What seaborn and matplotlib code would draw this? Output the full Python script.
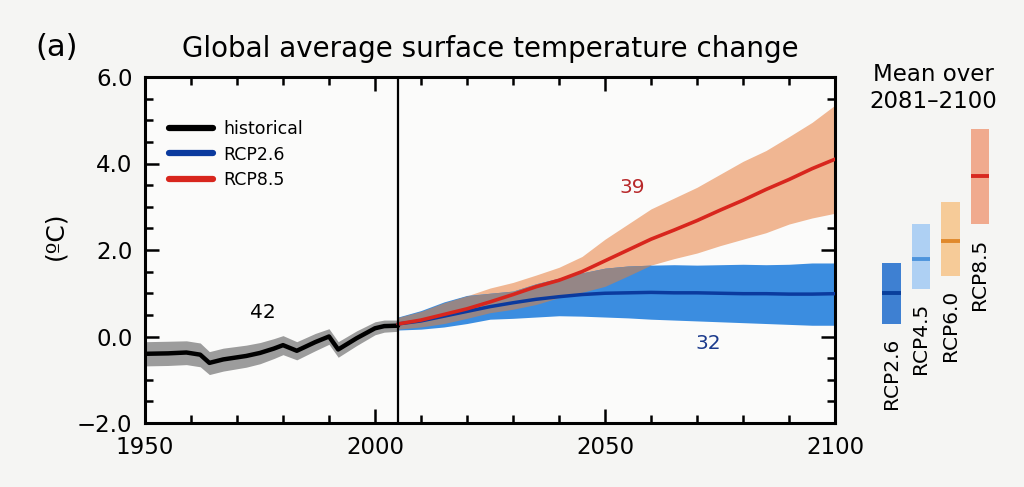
import numpy as np
import pandas as pd
import matplotlib
matplotlib.use("Agg")
import matplotlib.pyplot as plt
import seaborn as sns
from matplotlib.ticker import MultipleLocator, FixedLocator

# ---------------- data ----------------
hist_years = [1950, 1955, 1959, 1962, 1964, 1967, 1972, 1975, 1978, 1980, 1983,
              1987, 1990, 1992, 1996, 2000, 2002, 2005]
hist_mean = [-0.40, -0.39, -0.37, -0.42, -0.61, -0.53, -0.45, -0.38, -0.28, -0.20,
             -0.33, -0.13, 0.00, -0.30, -0.04, 0.19, 0.24, 0.25]
hist_lo = [-0.68, -0.67, -0.65, -0.70, -0.88, -0.80, -0.71, -0.63, -0.51, -0.42,
           -0.54, -0.33, -0.18, -0.48, -0.21, 0.04, 0.10, 0.12]
hist_hi = [-0.12, -0.11, -0.10, -0.15, -0.35, -0.27, -0.20, -0.14, -0.05, 0.02,
           -0.12, 0.07, 0.18, -0.12, 0.13, 0.34, 0.38, 0.38]

proj_years = [2005, 2010, 2015, 2020, 2025, 2030, 2035, 2040, 2045, 2050,
              2055, 2060, 2065, 2070, 2075, 2080, 2085, 2090, 2095, 2100]
rcp26_mean = [0.29, 0.36, 0.47, 0.58, 0.69, 0.78, 0.86, 0.92, 0.97, 1.00,
              1.01, 1.02, 1.01, 1.01, 1.00, 0.99, 0.99, 0.98, 0.98, 0.99]
rcp26_lo = [0.15, 0.17, 0.22, 0.30, 0.40, 0.42, 0.45, 0.48, 0.47, 0.45,
            0.43, 0.40, 0.38, 0.36, 0.34, 0.32, 0.30, 0.28, 0.26, 0.26]
rcp26_hi = [0.45, 0.60, 0.80, 0.95, 1.00, 1.05, 1.22, 1.35, 1.47, 1.58,
            1.63, 1.65, 1.66, 1.65, 1.66, 1.67, 1.66, 1.67, 1.70, 1.70]
rcp85_mean = [0.29, 0.38, 0.51, 0.64, 0.80, 0.97, 1.15, 1.30, 1.50, 1.75,
              2.00, 2.25, 2.46, 2.68, 2.92, 3.15, 3.40, 3.63, 3.88, 4.10]
rcp85_lo = [0.17, 0.22, 0.30, 0.42, 0.55, 0.63, 0.74, 0.90, 1.02, 1.16,
            1.40, 1.65, 1.80, 1.93, 2.10, 2.25, 2.40, 2.60, 2.74, 2.85]
rcp85_hi = [0.44, 0.58, 0.78, 0.94, 1.12, 1.25, 1.42, 1.60, 1.85, 2.25,
            2.60, 2.95, 3.20, 3.45, 3.75, 4.05, 4.30, 4.62, 4.95, 5.35]

bar_names = ["RCP2.6", "RCP4.5", "RCP6.0", "RCP8.5"]
bar_lo = [0.3, 1.1, 1.4, 2.6]
bar_hi = [1.7, 2.6, 3.1, 4.8]
bar_mean = [1.0, 1.8, 2.2, 3.7]

model_counts = ["42", "39", "32"]
count_pos_x = [1975.6, 2056.0, 2072.5]
count_pos_y = [0.55, 3.44, -0.16]

xtick_vals = [1950, 2000, 2050, 2100]
xtick_labels = ["1950", "2000", "2050", "2100"]
ytick_vals = [-2, 0, 2, 4, 6]
ytick_labels = ["\u22122.0", "0.0", "2.0", "4.0", "6.0"]

# ---------------- style ----------------
sns.set_style("ticks")
plt.rcParams["font.family"] = ["DejaVu Sans"]
plt.rcParams["text.color"] = "black"
plt.rcParams["axes.labelcolor"] = "black"
plt.rcParams["xtick.color"] = "black"
plt.rcParams["ytick.color"] = "black"

C_HIST_BAND = "#9c9c9c"
C_26_BAND = "#3b8de0"
C_85_BAND = "#f0b692"
C_OVERLAP = "#958686"
C_26_LINE = "#0b3a9e"
C_85_LINE = "#d8261d"

fig = plt.figure(figsize=(10.24, 4.87), dpi=100, facecolor="#f5f5f3")
ax = fig.add_axes([145 / 1024, 64 / 487, 690 / 1024, 346 / 487])
ax.set_facecolor("#fbfbfa")

yrs_p = np.array(proj_years)
lo26, hi26 = np.array(rcp26_lo), np.array(rcp26_hi)
lo85, hi85 = np.array(rcp85_lo), np.array(rcp85_hi)

# bands
ax.fill_between(hist_years, hist_lo, hist_hi, color=C_HIST_BAND, lw=0, zorder=1)
ax.fill_between(yrs_p, lo85, hi85, color=C_85_BAND, lw=0, zorder=1)
ax.fill_between(yrs_p, lo26, hi26, color=C_26_BAND, lw=0, zorder=1)
ov_lo = np.maximum(lo26, lo85)
ov_hi = np.minimum(hi26, hi85)
ax.fill_between(yrs_p, ov_lo, ov_hi, where=ov_hi > ov_lo, interpolate=True,
                color=C_OVERLAP, lw=0, zorder=1)

# lines
df_h = pd.DataFrame({"year": hist_years, "val": hist_mean})
df_26 = pd.DataFrame({"year": proj_years, "val": rcp26_mean})
df_85 = pd.DataFrame({"year": proj_years, "val": rcp85_mean})
sns.lineplot(data=df_h, x="year", y="val", ax=ax, color="black", lw=3.2,
             label="historical", zorder=3)
sns.lineplot(data=df_26, x="year", y="val", ax=ax, color=C_26_LINE, lw=2.5,
             label="RCP2.6", zorder=3)
sns.lineplot(data=df_85, x="year", y="val", ax=ax, color=C_85_LINE, lw=2.6,
             label="RCP8.5", zorder=4)

ax.axvline(2005, color="black", lw=1.6, zorder=5)

count_colors = ["black", "#b8282a", "#1b3a8c"]
for t, xx, yy, c in zip(model_counts, count_pos_x, count_pos_y, count_colors):
    ax.text(xx, yy, t, color=c, fontsize=14.5, ha="center", va="center")

ax.set_xlim(1950, 2100)
ax.set_ylim(-2, 6)
ax.xaxis.set_major_locator(FixedLocator(xtick_vals))
ax.set_xticklabels(xtick_labels)
ax.xaxis.set_minor_locator(MultipleLocator(10))
ax.yaxis.set_major_locator(FixedLocator(ytick_vals))
ax.set_yticklabels(ytick_labels)
ax.yaxis.set_minor_locator(MultipleLocator(0.5))
ax.tick_params(which="both", direction="in", top=True, right=True, width=1.8,
               colors="black", labelsize=16.5)
ax.tick_params(which="major", length=10)
ax.tick_params(which="minor", length=6)
ax.tick_params(axis="y", which="major", pad=9)
ax.tick_params(axis="x", which="major", pad=9)
for s in ax.spines.values():
    s.set_linewidth(2.2)
    s.set_color("black")
ax.set_xlabel("")
ax.set_ylabel("(\u00baC)", fontsize=18)
ax.yaxis.set_label_coords(-0.113, 0.54)

leg = ax.legend(loc="upper left", bbox_to_anchor=(0.025, 0.895), frameon=False,
                fontsize=12.5, handlelength=2.5, handletextpad=0.6,
                labelspacing=0.42, borderaxespad=0)
for h in leg.get_lines():
    h.set_linewidth(4.5)

# titles
fig.text(57 / 1024, 1 - 47 / 487, "(a)", fontsize=22, ha="center", va="center")
fig.text(490 / 1024, 1 - 49 / 487, "Global average surface temperature change",
         fontsize=20, ha="center", va="center")
fig.text(933 / 1024, 1 - 88 / 487, "Mean over\n2081\u20132100", fontsize=16.5,
         ha="center", va="center", linespacing=1.25)

# side bars
ax2 = fig.add_axes([870 / 1024, 64 / 487, 130 / 1024, 346 / 487])
ax2.set_xlim(-0.73, 3.68)
ax2.set_ylim(-2, 6)
ax2.axis("off")
bar_fill = ["#3e80d2", "#aed0f3", "#f6cb98", "#f0aa8e"]
bar_line = ["#0a3f9c", "#4d94dc", "#e0892c", "#d8291f"]
xs = np.arange(len(bar_names))
heights = np.array(bar_hi) - np.array(bar_lo)
ax2.bar(xs, heights, bottom=bar_lo, width=0.64, color=bar_fill, lw=0)
for i in range(len(bar_names)):
    ax2.hlines(bar_mean[i], xs[i] - 0.32, xs[i] + 0.32, color=bar_line[i], lw=2.8)
    ax2.text(xs[i], bar_lo[i] - 0.33, bar_names[i], rotation=90, ha="center",
             va="top", fontsize=14.5)

fig.savefig("out.png", dpi=100, facecolor=fig.get_facecolor())
